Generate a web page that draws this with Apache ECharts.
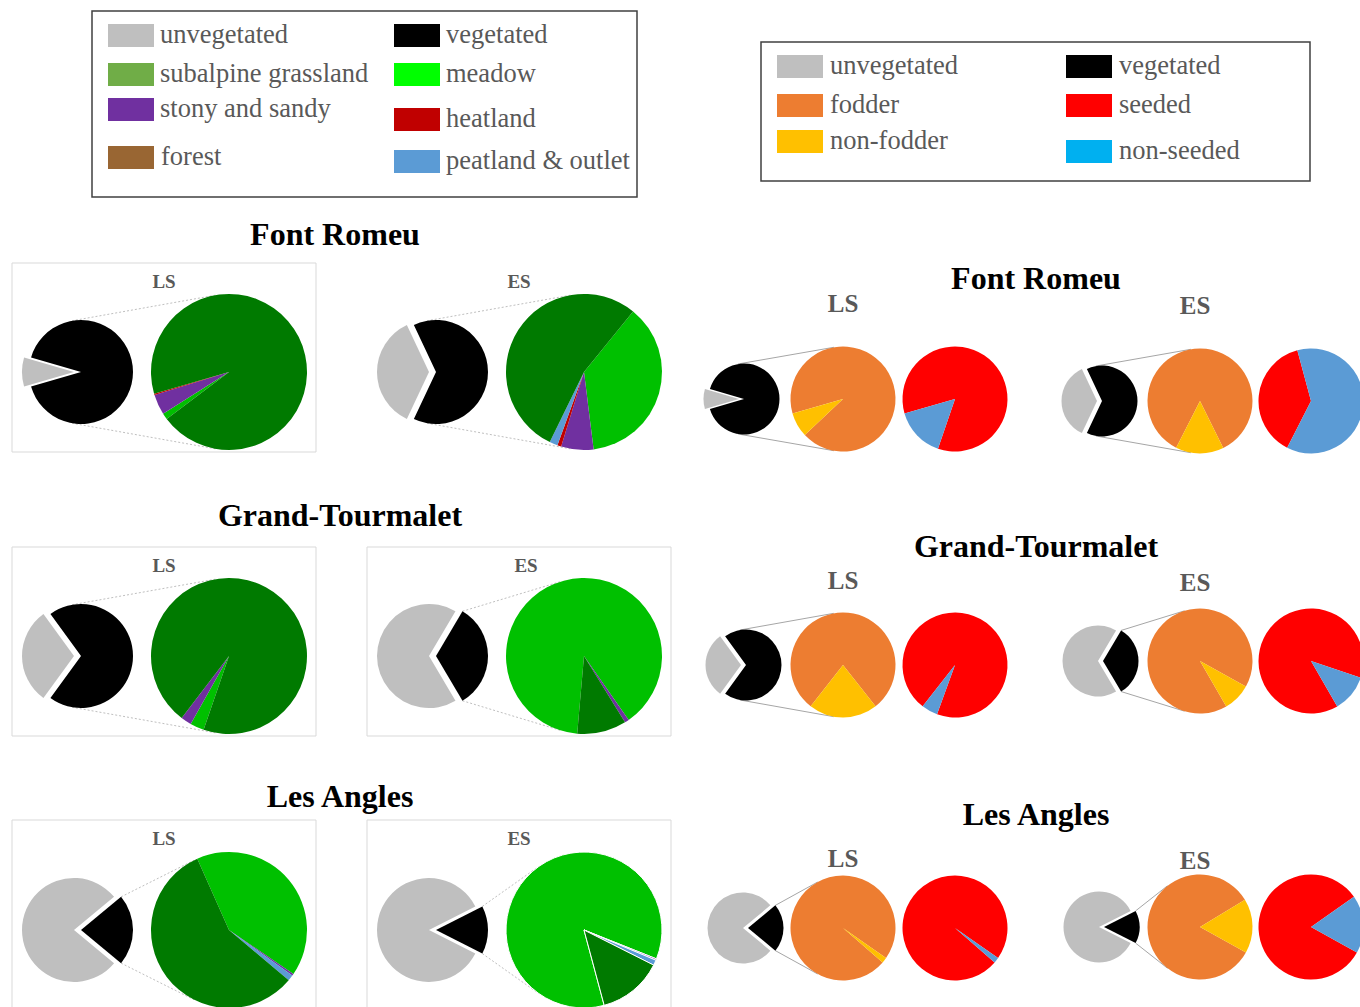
<!DOCTYPE html>
<html>
<head>
<meta charset="utf-8">
<script src="https://cdn.jsdelivr.net/npm/echarts@6/dist/echarts.min.js"></script>
<style>
  html, body { margin: 0; padding: 0; background: #fff; }
  #chart { width: 1360px; height: 1007px; }
</style>
</head>
<body>
<div id="chart"></div>
<script>
// ---- data -------------------------------------------------------------
// every array below is ordered: FR LS, FR ES, GT LS, GT ES, LA LS, LA ES
const sites = ['Font Romeu', 'Grand-Tourmalet', 'Les Angles'];
const stages = ['LS', 'ES'];

// ground cover, % of surveyed area
const unvegetated = [9, 36, 30, 67, 78, 85];
const vegetated   = [91, 64, 70, 33, 22, 15];

// vegetation types, % of the vegetated area
const meadow     = [1.3, 37.2, 2.9, 88.9, 41.2, 85.2];
const stony      = [4.2, 6.7, 2.2, 0.9, 0.4, 0.3];
const heatland   = [0.3, 0.8, 0, 0, 0, 0];
const peatland   = [0, 1.7, 0, 0, 1.2, 1.1];
const forest     = [0, 0, 0, 0, 0, 0];
const subalpine  = [94.2, 53.6, 94.9, 10.2, 57.2, 13.4];

// fodder value and seeding, % of the vegetated area
const fodder     = [92.4, 85.2, 78.8, 91.4, 98.3, 83.3];
const nonFodder  = [7.6, 14.8, 21.2, 8.6, 1.7, 16.7];
const seeded     = [84.7, 38.3, 95, 88.5, 98.3, 82.2];
const nonSeeded  = [15.3, 61.7, 5, 11.5, 1.7, 17.8];

// legend entries
const habitatLegendNames  = ['unvegetated', 'subalpine grassland', 'stony and sandy', 'forest',
                             'vegetated', 'meadow', 'heatland', 'peatland & outlet'];
const habitatLegendColors = ['#BFBFBF', '#70AD47', '#7030A0', '#996633',
                             '#000000', '#00FF00', '#C00000', '#5B9BD5'];
const usageLegendNames    = ['unvegetated', 'fodder', 'non-fodder', 'vegetated', 'seeded', 'non-seeded'];
const usageLegendColors   = ['#BFBFBF', '#ED7D31', '#FFC000', '#000000', '#FF0000', '#00B0F0'];

// ---- styling & layout -------------------------------------------------
const SERIF = "'Liberation Serif', 'Times New Roman', serif";
const C = {
  gray: '#BFBFBF', black: '#000000',
  meadow: '#00C000', stony: '#7030A0', heatland: '#C00000', peatland: '#5B9BD5',
  forest: '#996633', subalpine: '#007A00',
  fodder: '#ED7D31', nonFodder: '#FFC000', seeded: '#FF0000', nonSeeded: '#5B9BD5'
};
const LEGEND_SIZE = 26.5, TITLE_SIZE = 32;

// rotation of the detail pies (angle where the first slice starts)
const habitatStart = [217, 51, 251, 265, 114, 285];
const usageStart   = [196, 243, 232, 300, 319, 331];

// left panel geometry
const L = {
  titleX: [335, 340, 340], titleY: [234, 515, 796],
  labelY: [281, 565, 838], labelX: [[164, 519], [164, 526], [164, 519]],
  boxTop: [263, 547, 820], boxX: [12, 367], boxW: 304, boxH: 189,
  framed: [[true, false], [true, true], [true, true]],
  cy: [372, 656, 930],
  smallX: [81, 436], bigX: [229, 584], rSmall: 52, rBig: 78, explode: 7
};
// right panel geometry
const R = {
  titleX: 1036, titleY: [278, 546, 814],
  labelX: [843, 1195], labelY: [[303, 305], [580, 582], [858, 860]],
  cy: [[399, 401], [665, 661], [928, 927]],
  smallX: [[744, 1102], [746, 1103], [748, 1104]],
  fodderX: [843, 1200], seededX: [955, 1311], rSmall: 35.5, rBig: 52.5, explode: 5
};

const graphics = [];
const series = [];

function text(str, x, y, size, color, bold, align) {
  graphics.push({
    type: 'text', silent: true,
    style: {
      text: str, x: x, y: y, fill: color,
      font: (bold ? 'bold ' : '') + size + 'px ' + SERIF,
      textAlign: align || 'center', textVerticalAlign: 'middle'
    }
  });
}
function rect(x, y, w, h, fill, stroke, lw) {
  graphics.push({
    type: 'rect', silent: true,
    shape: { x: x, y: y, width: w, height: h },
    style: { fill: fill || 'none', stroke: stroke || 'none', lineWidth: lw || 0 }
  });
}
function line(p1, p2, stroke, dash) {
  graphics.push({
    type: 'line', silent: true,
    shape: { x1: p1[0], y1: p1[1], x2: p2[0], y2: p2[1] },
    style: { stroke: stroke, lineWidth: 1, lineDash: dash || null }
  });
}

function pie(cx, cy, r, startAngle, items, extra) {
  series.push(Object.assign({
    type: 'pie', center: [cx, cy], radius: r, startAngle: startAngle,
    clockwise: true, silent: true, animation: false,
    label: { show: false }, labelLine: { show: false },
    emphasis: { disabled: true },
    data: items.filter(d => d.value > 0).map(d => ({
      name: d.name, value: d.value, selected: !!d.selected,
      itemStyle: { color: d.color },
      select: { itemStyle: { color: d.color } }
    }))
  }, extra || {}));
}

// overview pie: unvegetated slice pulled out to the left, vegetated slice facing right
function coverPie(i, cx, cy, r, offset) {
  pie(cx, cy, r, 180 + unvegetated[i] * 3.6 / 2, [
    { name: 'unvegetated', value: unvegetated[i], color: C.gray, selected: true },
    { name: 'vegetated', value: vegetated[i], color: C.black }
  ], { selectedMode: 'single', selectedOffset: offset });
}

// two connector lines from the vegetated slice of the overview pie to the detail pie
function connectors(i, cx1, cy, r1, cx2, r2, color, dash) {
  const d = cx2 - cx1;
  const tangent = Math.PI / 2 + Math.asin((r2 - r1) / d);
  const half = vegetated[i] * 3.6 / 2 * Math.PI / 180;
  const a = Math.min(half, tangent);
  const px = r1 * Math.cos(a) - d, py = r1 * Math.sin(a);
  const dist = Math.hypot(px, py);
  const b = Math.atan2(py, px) - Math.acos(r2 / dist);
  [1, -1].forEach(s => {
    line([cx1 + r1 * Math.cos(a), cy - s * r1 * Math.sin(a)],
         [cx2 + r2 * Math.cos(b), cy - s * r2 * Math.sin(b)], color, dash);
  });
}

// ---- legends ----------------------------------------------------------
rect(92, 11, 545, 186, '#fff', '#404040', 1.5);
const habSwatch = [[108, 24], [108, 63], [108, 98], [108, 146], [394, 24], [394, 63], [394, 108], [394, 150]];
const habTextX = [160, 160, 160, 161, 446, 446, 446, 446];
habitatLegendNames.forEach((n, k) => {
  rect(habSwatch[k][0], habSwatch[k][1], 46, 23, habitatLegendColors[k]);
  text(n, habTextX[k], habSwatch[k][1] + 10, LEGEND_SIZE, '#595959', false, 'left');
});

rect(761, 42, 549, 139, '#fff', '#404040', 1.5);
const useSwatch = [[777, 55], [777, 94], [777, 130], [1066, 55], [1066, 94], [1066, 140]];
const useTextX = [830, 830, 830, 1119, 1119, 1119];
usageLegendNames.forEach((n, k) => {
  rect(useSwatch[k][0], useSwatch[k][1], 46, 23, usageLegendColors[k]);
  text(n, useTextX[k], useSwatch[k][1] + 10, LEGEND_SIZE, '#595959', false, 'left');
});

// ---- left panel: vegetation types -------------------------------------
sites.forEach((site, s) => {
  text(site, L.titleX[s], L.titleY[s], TITLE_SIZE, '#000', true);
  stages.forEach((st, p) => {
    const i = s * 2 + p;
    if (L.framed[s][p]) rect(L.boxX[p], L.boxTop[s], L.boxW, L.boxH, '#fff', '#D9D9D9', 1);
    text(st, L.labelX[s][p], L.labelY[s], 19, '#595959', true);
    connectors(i, L.smallX[p], L.cy[s], L.rSmall, L.bigX[p], L.rBig, '#BFBFBF', [2, 2]);
    coverPie(i, L.smallX[p], L.cy[s], L.rSmall, L.explode);
    pie(L.bigX[p], L.cy[s], L.rBig, habitatStart[i], [
      { name: 'meadow', value: meadow[i], color: C.meadow },
      { name: 'stony and sandy', value: stony[i], color: C.stony },
      { name: 'heatland', value: heatland[i], color: C.heatland },
      { name: 'peatland & outlet', value: peatland[i], color: C.peatland },
      { name: 'forest', value: forest[i], color: C.forest },
      { name: 'subalpine grassland', value: subalpine[i], color: C.subalpine }
    ], i === 5 ? { itemStyle: { borderColor: '#fff', borderWidth: 1 } } : {});
  });
});

// ---- right panel: fodder value and seeding ----------------------------
sites.forEach((site, s) => {
  text(site, R.titleX, R.titleY[s], TITLE_SIZE, '#000', true);
  stages.forEach((st, p) => {
    const i = s * 2 + p;
    const cy = R.cy[s][p];
    text(st, R.labelX[p], R.labelY[s][p], 25, '#595959', true);
    connectors(i, R.smallX[s][p], cy, R.rSmall, R.fodderX[p], R.rBig, '#A6A6A6');
    coverPie(i, R.smallX[s][p], cy, R.rSmall, R.explode);
    pie(R.fodderX[p], cy, R.rBig, usageStart[i], [
      { name: 'fodder', value: fodder[i], color: C.fodder },
      { name: 'non-fodder', value: nonFodder[i], color: C.nonFodder }
    ]);
    pie(R.seededX[p], cy, R.rBig, usageStart[i], [
      { name: 'seeded', value: seeded[i], color: C.seeded },
      { name: 'non-seeded', value: nonSeeded[i], color: C.nonSeeded }
    ]);
  });
});

const chart = echarts.init(document.getElementById('chart'), null, { renderer: 'svg' });
chart.setOption({
  backgroundColor: '#fff',
  animation: false,
  graphic: { elements: graphics },
  series: series
});
</script>
</body>
</html>
